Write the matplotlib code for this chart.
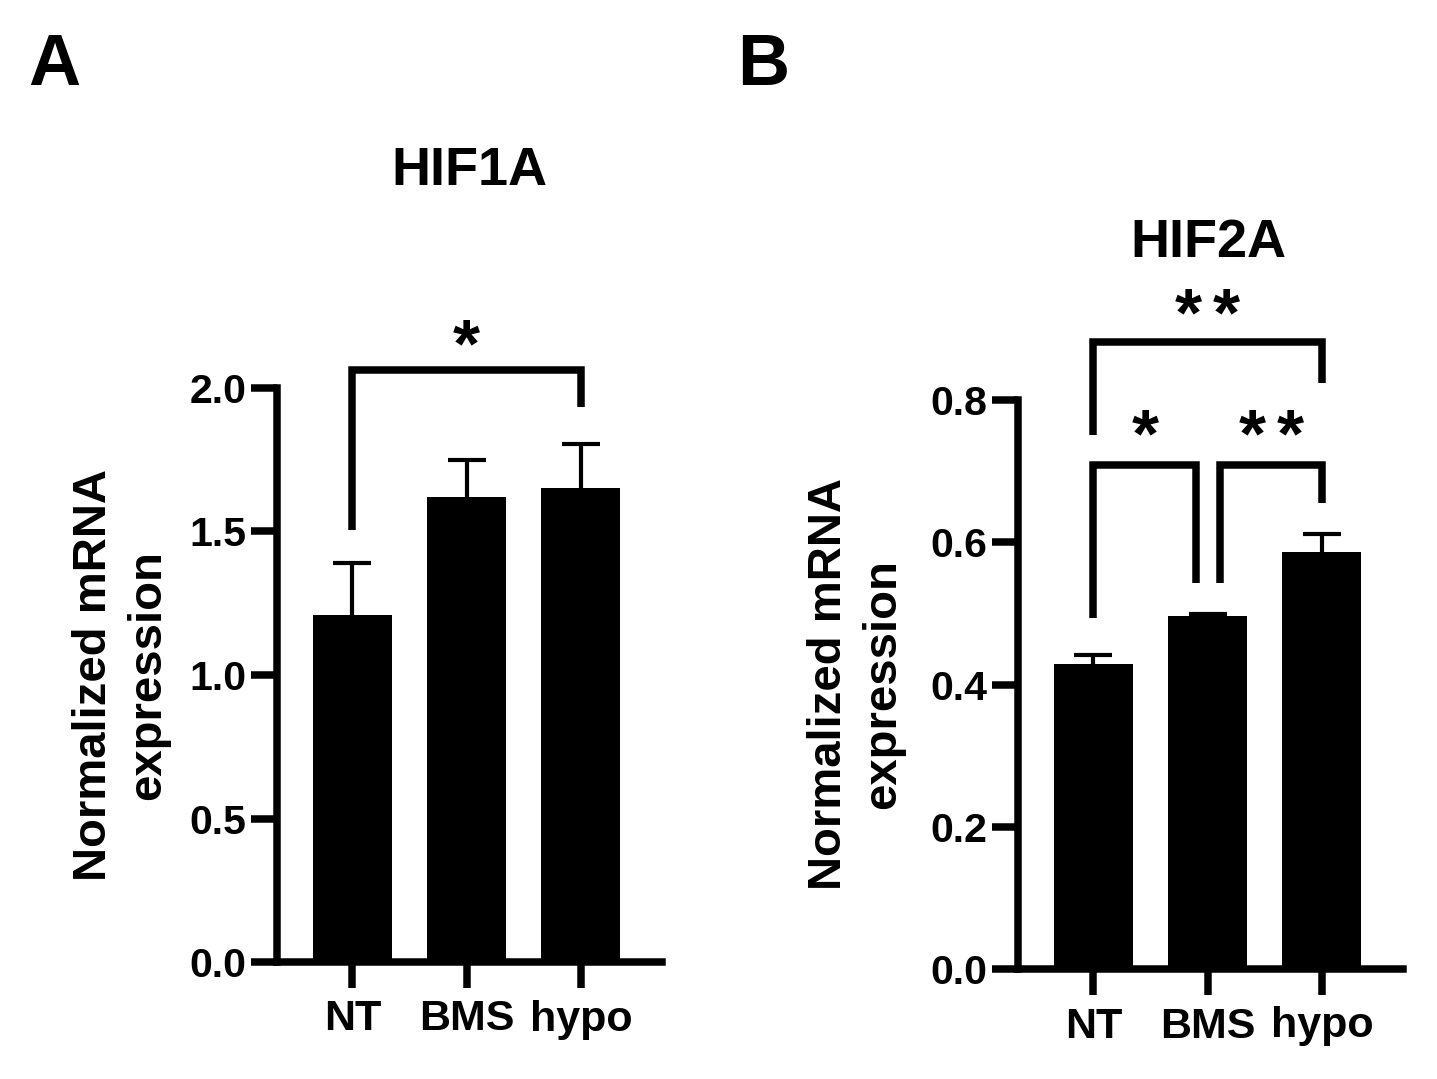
import numpy as np
import matplotlib
matplotlib.use('Agg')
import matplotlib.pyplot as plt

plt.rcParams['font.family'] = ['Liberation Sans', 'DejaVu Sans']
plt.rcParams['font.weight'] = 'bold'

groups = ['NT', 'BMS', 'hypo']

hif1a_mean = [1.21, 1.62, 1.65]
hif1a_sem = [0.18, 0.13, 0.155]
hif1a_ticks = [0.0, 0.5, 1.0, 1.5, 2.0]

hif2a_mean = [0.429, 0.496, 0.586]
hif2a_sem = [0.013, 0.003, 0.025]
hif2a_ticks = [0.0, 0.2, 0.4, 0.6, 0.8]

# significance brackets: x left, x right, y left leg, y top, y right leg, label, label y
hif1a_sig = [(0, 2, 1.505, 2.063, 1.934, '*', 2.195)]
hif2a_sig = [(0, 0.9, 0.493, 0.708, 0.5425, '*', 0.769),
             (1.11, 2, 0.5425, 0.708, 0.655, '**', 0.769),
             (0, 2, 0.7505, 0.881, 0.8236, '**', 0.940)]

W, H = 1437, 1079
fig = plt.figure(figsize=(W / 100, H / 100), dpi=100)


def px_box(l, r, b, t):
    return [l / W, 1 - b / H, (r - l) / W, (b - t) / H]


def panel(ax, means, sems, yticks, sig, ylab_x):
    x = np.arange(len(groups))
    ax.bar(x, means, width=0.69, color='black', zorder=2)
    eb = ax.errorbar(x, means, yerr=[np.zeros(len(x)), sems], fmt='none',
                     ecolor='black', elinewidth=3, capsize=14, capthick=3, zorder=3)
    eb[1][0].set_visible(False)

    ax.set_xlim(-0.66, 2.71)
    ax.set_ylim(yticks[0], yticks[-1])
    ax.set_xticks(x)
    ax.set_xticklabels(groups)
    ax.set_yticks(yticks)
    ax.set_yticklabels(['%.1f' % t for t in yticks])
    for s in ['top', 'right']:
        ax.spines[s].set_visible(False)
    for s in ['left', 'bottom']:
        ax.spines[s].set_linewidth(5.4)
    ax.tick_params(width=5.4, length=19)
    ax.tick_params(axis='x', pad=8, labelsize=31)
    ax.tick_params(axis='y', pad=3, labelsize=29.5)

    fs = 50
    gap = 27.4
    for xl, xr, yl, yt, yr, lab, ly in sig:
        ax.plot([xl, xl, xr, xr], [yl, yt, yt, yr], color='black', lw=5.4,
                solid_joinstyle='miter', solid_capstyle='butt', clip_on=False)
        n = len(lab)
        for i, ch in enumerate(lab):
            ax.annotate(ch, xy=((xl + xr) / 2, ly),
                        xytext=((i - (n - 1) / 2) * gap, -0.5 * fs),
                        textcoords='offset points', ha='center', va='baseline',
                        fontsize=fs, annotation_clip=False)

    ax.text(ylab_x, 0.5, 'Normalized mRNA\nexpression', transform=ax.transAxes,
            rotation=90, ha='center', va='center', fontsize=34, linespacing=1.3,
            multialignment='center')


axA = fig.add_axes(px_box(277, 662, 962, 388))
panel(axA, hif1a_mean, hif1a_sem, hif1a_ticks, hif1a_sig, -0.405)

axB = fig.add_axes(px_box(1018, 1403, 969, 400))
panel(axB, hif2a_mean, hif2a_sem, hif2a_ticks, hif2a_sig, -0.42)

fig.text(469 / W, 1 - 185 / H, 'HIF1A', ha='center', va='baseline', fontsize=39)
fig.text(1208 / W, 1 - 257 / H, 'HIF2A', ha='center', va='baseline', fontsize=39)
fig.text(28 / W, 1 - 85 / H, 'A', ha='left', va='baseline', fontsize=52)
fig.text(737 / W, 1 - 85 / H, 'B', ha='left', va='baseline', fontsize=52)

fig.savefig('out.png', dpi=100)
